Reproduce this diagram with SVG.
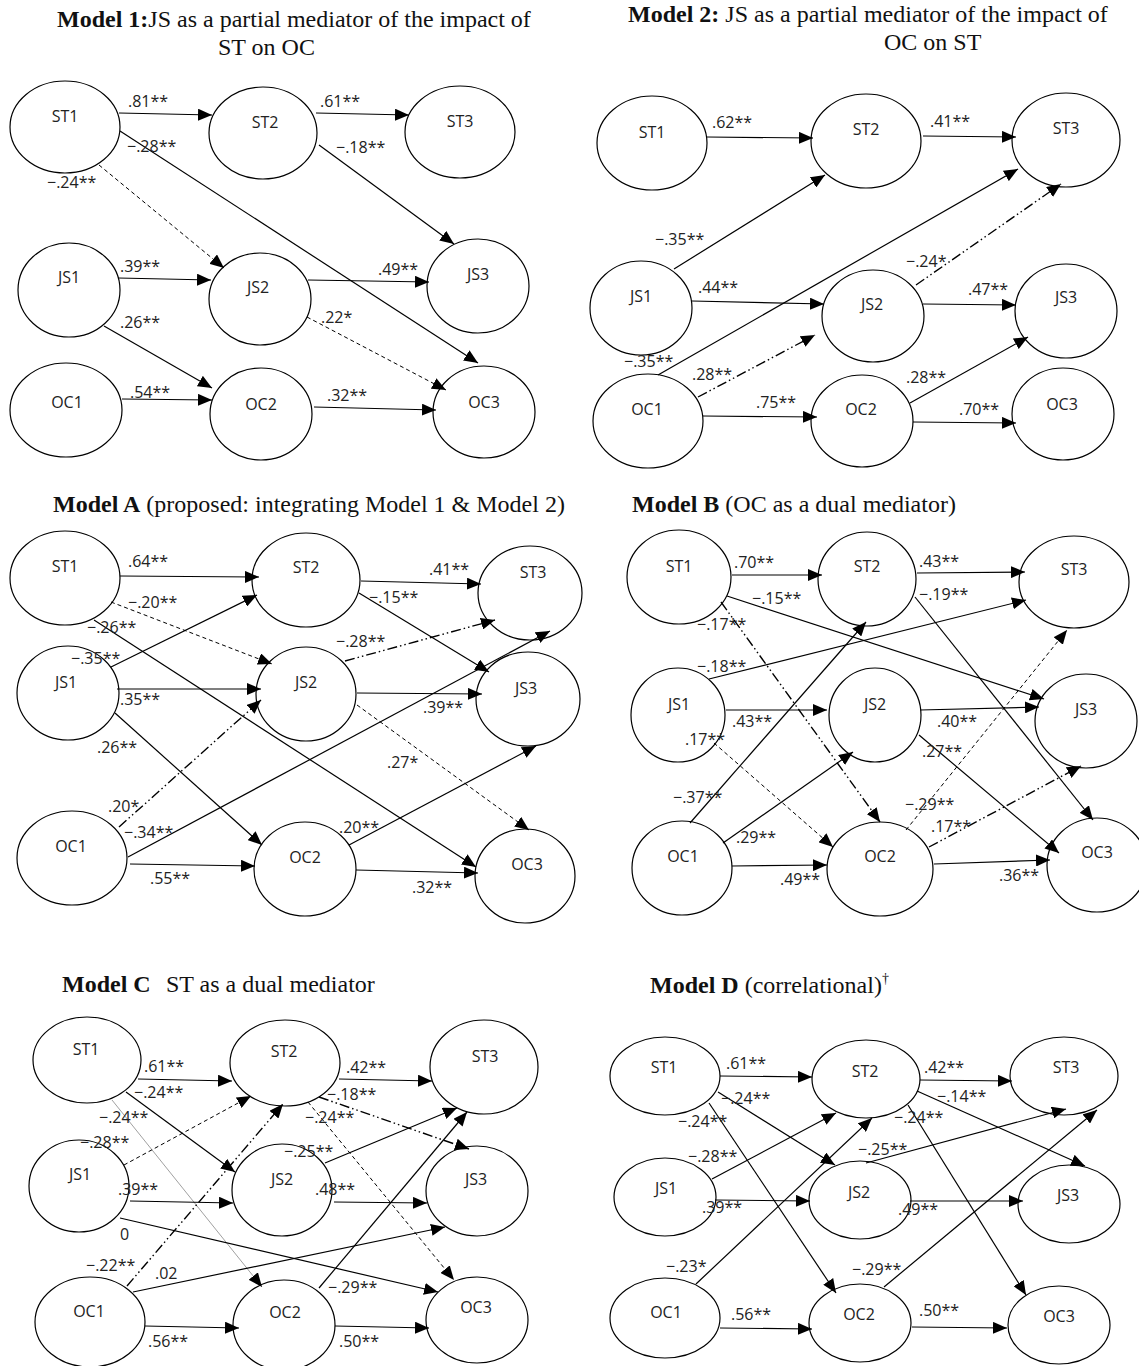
<svg xmlns="http://www.w3.org/2000/svg" width="1139" height="1366" viewBox="0 0 1139 1366">
<defs>
<marker id="ah" viewBox="0 0 14 12" refX="14" refY="6" markerWidth="14" markerHeight="12" markerUnits="userSpaceOnUse" orient="auto"><path d="M0,0 L14,6 L0,12 z" fill="#000" stroke="none"/></marker>
<style>
.n ellipse{fill:#fff;stroke:#000;stroke-width:1.2}
.n text{font-family:"Open Sans","Liberation Sans",sans-serif;font-size:16px;text-anchor:middle;fill:#222}
#connectors line{stroke:#000;stroke-width:1.2;fill:none;marker-end:url(#ah)}
#connectors line.d{stroke-dasharray:4 3;stroke-width:1}
#connectors line.dd{stroke-dasharray:10 3 1.5 3 1.5 3;stroke-width:1.4}
#connectors line.thin{stroke:#777;stroke-width:0.7}
.el{font-family:"Open Sans","Liberation Sans",sans-serif;font-size:16px;fill:#222}
.ti{font-family:"Liberation Serif","Times New Roman",serif;font-size:24px;fill:#111}
.b{font-weight:bold}
</style>
</defs>
<rect width="1139" height="1366" fill="#fff"/>
<g id="titles">
<text class="ti" x="57" y="27"><tspan class="b">Model 1:</tspan>JS as a partial mediator of the impact of</text>
<text class="ti" x="218" y="55">ST on OC</text>
<text class="ti" x="628" y="22"><tspan class="b">Model 2:</tspan> JS as a partial mediator of the impact of</text>
<text class="ti" x="884" y="50">OC on ST</text>
<text class="ti" x="53" y="512"><tspan class="b">Model A</tspan> (proposed: integrating Model 1 &amp; Model 2)</text>
<text class="ti" x="632" y="512"><tspan class="b">Model B</tspan> (OC as a dual mediator)</text>
<text class="ti" x="62" y="992"><tspan class="b">Model C</tspan><tspan x="166">ST as a dual mediator</tspan></text>
<text class="ti" x="650" y="993"><tspan class="b">Model D</tspan> (correlational)<tspan font-size="14" dy="-10">†</tspan></text>
</g>
<g id="nodes">
<g id="m1-ST1" class="n"><ellipse cx="65" cy="127" rx="55" ry="46"/><text x="65" y="122">ST1</text></g>
<g id="m1-ST2" class="n"><ellipse cx="263" cy="133" rx="54" ry="46"/><text x="265" y="128">ST2</text></g>
<g id="m1-ST3" class="n"><ellipse cx="460" cy="132" rx="55" ry="46"/><text x="460" y="127">ST3</text></g>
<g id="m1-JS1" class="n"><ellipse cx="69" cy="290" rx="51" ry="47"/><text x="69" y="283">JS1</text></g>
<g id="m1-JS2" class="n"><ellipse cx="260" cy="299" rx="51" ry="46"/><text x="258" y="293">JS2</text></g>
<g id="m1-JS3" class="n"><ellipse cx="478" cy="286" rx="51" ry="47"/><text x="478" y="280">JS3</text></g>
<g id="m1-OC1" class="n"><ellipse cx="66" cy="410" rx="56" ry="47"/><text x="67" y="408">OC1</text></g>
<g id="m1-OC2" class="n"><ellipse cx="261" cy="414" rx="51" ry="46"/><text x="261" y="410">OC2</text></g>
<g id="m1-OC3" class="n"><ellipse cx="484" cy="412" rx="51" ry="46"/><text x="484" y="408">OC3</text></g>

<g id="m2-ST1" class="n"><ellipse cx="652" cy="143" rx="55" ry="47"/><text x="652" y="138">ST1</text></g>
<g id="m2-ST2" class="n"><ellipse cx="866" cy="141" rx="55" ry="47"/><text x="866" y="135">ST2</text></g>
<g id="m2-ST3" class="n"><ellipse cx="1066" cy="140" rx="54" ry="47"/><text x="1066" y="134">ST3</text></g>
<g id="m2-JS1" class="n"><ellipse cx="641" cy="308" rx="51" ry="47"/><text x="641" y="302">JS1</text></g>
<g id="m2-JS2" class="n"><ellipse cx="873" cy="316" rx="51" ry="46"/><text x="872" y="310">JS2</text></g>
<g id="m2-JS3" class="n"><ellipse cx="1066" cy="311" rx="51" ry="47"/><text x="1066" y="303">JS3</text></g>
<g id="m2-OC1" class="n"><ellipse cx="648" cy="421" rx="55" ry="47"/><text x="647" y="415">OC1</text></g>
<g id="m2-OC2" class="n"><ellipse cx="862" cy="421" rx="51" ry="46"/><text x="861" y="415">OC2</text></g>
<g id="m2-OC3" class="n"><ellipse cx="1063" cy="414" rx="51" ry="46"/><text x="1062" y="410">OC3</text></g>

<g id="mA-ST1" class="n"><ellipse cx="65" cy="578" rx="55" ry="47"/><text x="65" y="572">ST1</text></g>
<g id="mA-ST2" class="n"><ellipse cx="306" cy="580" rx="54" ry="47"/><text x="306" y="573">ST2</text></g>
<g id="mA-ST3" class="n"><ellipse cx="530" cy="593" rx="52" ry="47"/><text x="533" y="578">ST3</text></g>
<g id="mA-JS1" class="n"><ellipse cx="68" cy="693" rx="51" ry="47"/><text x="66" y="688">JS1</text></g>
<g id="mA-JS2" class="n"><ellipse cx="306" cy="694" rx="50" ry="47"/><text x="306" y="688">JS2</text></g>
<g id="mA-JS3" class="n"><ellipse cx="528" cy="699" rx="52" ry="47"/><text x="526" y="694">JS3</text></g>
<g id="mA-OC1" class="n"><ellipse cx="72" cy="858" rx="55" ry="47"/><text x="71" y="852">OC1</text></g>
<g id="mA-OC2" class="n"><ellipse cx="305" cy="869" rx="51" ry="47"/><text x="305" y="863">OC2</text></g>
<g id="mA-OC3" class="n"><ellipse cx="525" cy="876" rx="50" ry="47"/><text x="527" y="870">OC3</text></g>

<g id="mB-ST1" class="n"><ellipse cx="679" cy="577" rx="52" ry="47"/><text x="679" y="572">ST1</text></g>
<g id="mB-ST2" class="n"><ellipse cx="867" cy="579" rx="49" ry="47"/><text x="867" y="572">ST2</text></g>
<g id="mB-ST3" class="n"><ellipse cx="1074" cy="582" rx="55" ry="46"/><text x="1074" y="575">ST3</text></g>
<g id="mB-JS1" class="n"><ellipse cx="678" cy="715" rx="47" ry="47"/><text x="679" y="710">JS1</text></g>
<g id="mB-JS2" class="n"><ellipse cx="875" cy="715" rx="46" ry="47"/><text x="875" y="710">JS2</text></g>
<g id="mB-JS3" class="n"><ellipse cx="1086" cy="721" rx="51" ry="47"/><text x="1086" y="715">JS3</text></g>
<g id="mB-OC1" class="n"><ellipse cx="682" cy="868" rx="50" ry="47"/><text x="683" y="862">OC1</text></g>
<g id="mB-OC2" class="n"><ellipse cx="880" cy="869" rx="53" ry="47"/><text x="880" y="862">OC2</text></g>
<g id="mB-OC3" class="n"><ellipse cx="1097" cy="865" rx="50" ry="47"/><text x="1097" y="858">OC3</text></g>

<g id="mC-ST1" class="n"><ellipse cx="87" cy="1060" rx="54" ry="43"/><text x="86" y="1055">ST1</text></g>
<g id="mC-ST2" class="n"><ellipse cx="285" cy="1063" rx="55" ry="43"/><text x="284" y="1057">ST2</text></g>
<g id="mC-ST3" class="n"><ellipse cx="484" cy="1067" rx="54" ry="47"/><text x="485" y="1062">ST3</text></g>
<g id="mC-JS1" class="n"><ellipse cx="79" cy="1186" rx="50" ry="46"/><text x="80" y="1180">JS1</text></g>
<g id="mC-JS2" class="n"><ellipse cx="282" cy="1190" rx="50" ry="46"/><text x="282" y="1185">JS2</text></g>
<g id="mC-JS3" class="n"><ellipse cx="477" cy="1191" rx="51" ry="45"/><text x="476" y="1185">JS3</text></g>
<g id="mC-OC1" class="n"><ellipse cx="90" cy="1322" rx="55" ry="45"/><text x="89" y="1317">OC1</text></g>
<g id="mC-OC2" class="n"><ellipse cx="284" cy="1325" rx="51" ry="45"/><text x="285" y="1318">OC2</text></g>
<g id="mC-OC3" class="n"><ellipse cx="477" cy="1320" rx="51" ry="43"/><text x="476" y="1313">OC3</text></g>

<g id="mD-ST1" class="n"><ellipse cx="665" cy="1076" rx="55" ry="39"/><text x="664" y="1073">ST1</text></g>
<g id="mD-ST2" class="n"><ellipse cx="866" cy="1079" rx="54" ry="39"/><text x="865" y="1077">ST2</text></g>
<g id="mD-ST3" class="n"><ellipse cx="1064" cy="1076" rx="54" ry="39"/><text x="1066" y="1073">ST3</text></g>
<g id="mD-JS1" class="n"><ellipse cx="665" cy="1197" rx="51" ry="39"/><text x="666" y="1194">JS1</text></g>
<g id="mD-JS2" class="n"><ellipse cx="860" cy="1200" rx="51" ry="39"/><text x="859" y="1198">JS2</text></g>
<g id="mD-JS3" class="n"><ellipse cx="1069" cy="1204" rx="51" ry="39"/><text x="1068" y="1201">JS3</text></g>
<g id="mD-OC1" class="n"><ellipse cx="665" cy="1318" rx="55" ry="40"/><text x="666" y="1318">OC1</text></g>
<g id="mD-OC2" class="n"><ellipse cx="860" cy="1323" rx="51" ry="39"/><text x="859" y="1320">OC2</text></g>
<g id="mD-OC3" class="n"><ellipse cx="1059" cy="1325" rx="51" ry="39"/><text x="1059" y="1322">OC3</text></g>
</g>
<g id="connectors">
<line x1="119" y1="113" x2="212" y2="115"/>
<line x1="316" y1="113" x2="409" y2="115"/>
<line x1="120" y1="131" x2="478" y2="363"/>
<line x1="319" y1="145" x2="454" y2="244"/>
<line class="d" x1="99" y1="165" x2="224" y2="268"/>
<line x1="118" y1="278" x2="211" y2="280"/>
<line x1="308" y1="280" x2="429" y2="282"/>
<line x1="104" y1="326" x2="212" y2="388"/>
<line class="d" x1="307" y1="317" x2="446" y2="390"/>
<line x1="122" y1="399" x2="212" y2="400"/>
<line x1="314" y1="407" x2="436" y2="410"/>

<line x1="707" y1="137" x2="813" y2="138"/>
<line x1="923" y1="136" x2="1016" y2="137"/>
<line x1="674" y1="269" x2="825" y2="175"/>
<line x1="658" y1="375" x2="1018" y2="169"/>
<line class="dd" x1="916" y1="285" x2="1061" y2="184"/>
<line x1="692" y1="301" x2="824" y2="304"/>
<line x1="923" y1="304" x2="1016" y2="305"/>
<line class="dd" x1="698" y1="397" x2="815" y2="335"/>
<line x1="703" y1="416" x2="817" y2="417"/>
<line x1="910" y1="403" x2="1028" y2="337"/>
<line x1="913" y1="422" x2="1016" y2="423"/>

<line x1="120" y1="576" x2="259" y2="577"/>
<line x1="361" y1="581" x2="481" y2="584"/>
<line class="d" x1="111" y1="602" x2="272" y2="664"/>
<line x1="94" y1="620" x2="476" y2="867"/>
<line x1="111" y1="667" x2="257" y2="595"/>
<line x1="359" y1="593" x2="489" y2="672"/>
<line class="dd" x1="345" y1="661" x2="495" y2="620"/>
<line x1="117" y1="689" x2="261" y2="689"/>
<line x1="357" y1="693" x2="482" y2="694"/>
<line x1="115" y1="713" x2="262" y2="845"/>
<line class="d" x1="357" y1="705" x2="529" y2="830"/>
<line class="dd" x1="119" y1="827" x2="261" y2="700"/>
<line x1="128" y1="857" x2="550" y2="631"/>
<line x1="130" y1="864" x2="255" y2="866"/>
<line x1="349" y1="845" x2="536" y2="746"/>
<line x1="356" y1="870" x2="478" y2="873"/>

<line x1="732" y1="575" x2="822" y2="575"/>
<line x1="917" y1="573" x2="1025" y2="572"/>
<line x1="727" y1="596" x2="1044" y2="699"/>
<line x1="915" y1="597" x2="1093" y2="820"/>
<line class="dd" x1="721" y1="602" x2="880" y2="822"/>
<line x1="709" y1="679" x2="1026" y2="600"/>
<line x1="726" y1="710" x2="827" y2="710"/>
<line x1="920" y1="710" x2="1039" y2="707"/>
<line class="d" x1="714" y1="743" x2="833" y2="847"/>
<line x1="919" y1="735" x2="1059" y2="853"/>
<line x1="690" y1="823" x2="866" y2="622"/>
<line x1="723" y1="843" x2="853" y2="752"/>
<line class="d" x1="906" y1="830" x2="1067" y2="630"/>
<line class="dd" x1="929" y1="847" x2="1081" y2="766"/>
<line x1="732" y1="866" x2="827" y2="865"/>
<line x1="934" y1="864" x2="1050" y2="860"/>

<line x1="138" y1="1079" x2="232" y2="1081"/>
<line x1="339" y1="1079" x2="432" y2="1081"/>
<line x1="126" y1="1092" x2="235" y2="1172"/>
<line class="thin" x1="112" y1="1100" x2="262" y2="1287"/>
<line class="d" x1="124" y1="1165" x2="251" y2="1096"/>
<line x1="130" y1="1201" x2="233" y2="1203"/>
<line x1="120" y1="1218" x2="438" y2="1292"/>
<line class="dd" x1="127" y1="1286" x2="283" y2="1104"/>
<line x1="133" y1="1292" x2="445" y2="1227"/>
<line x1="145" y1="1326" x2="239" y2="1328"/>
<line class="dd" x1="319" y1="1097" x2="469" y2="1149"/>
<line class="d" x1="308" y1="1102" x2="454" y2="1280"/>
<line x1="325" y1="1163" x2="457" y2="1108"/>
<line x1="334" y1="1202" x2="427" y2="1203"/>
<line x1="319" y1="1288" x2="467" y2="1112"/>
<line x1="335" y1="1326" x2="429" y2="1328"/>

<line x1="720" y1="1076" x2="812" y2="1077"/>
<line x1="920" y1="1080" x2="1012" y2="1081"/>
<line x1="718" y1="1092" x2="835" y2="1165"/>
<line x1="709" y1="1103" x2="836" y2="1293"/>
<line x1="712" y1="1179" x2="836" y2="1113"/>
<line x1="715" y1="1200" x2="810" y2="1201"/>
<line x1="696" y1="1284" x2="872" y2="1118"/>
<line x1="917" y1="1091" x2="1085" y2="1166"/>
<line x1="908" y1="1105" x2="1026" y2="1295"/>
<line x1="866" y1="1163" x2="1066" y2="1109"/>
<line x1="910" y1="1201" x2="1023" y2="1201"/>
<line x1="884" y1="1287" x2="1097" y2="1110"/>
<line x1="720" y1="1328" x2="812" y2="1329"/>
<line x1="912" y1="1327" x2="1007" y2="1328"/>
</g>
<g id="edge-labels" class="el">
<text x="128" y="107">.81**</text>
<text x="320" y="107">.61**</text>
<text x="127" y="152">−.28**</text>
<text x="336" y="153">−.18**</text>
<text x="47" y="188">−.24**</text>
<text x="120" y="272">.39**</text>
<text x="378" y="275">.49**</text>
<text x="120" y="328">.26**</text>
<text x="321" y="323">.22*</text>
<text x="130" y="398">.54**</text>
<text x="327" y="401">.32**</text>

<text x="712" y="128">.62**</text>
<text x="930" y="127">.41**</text>
<text x="655" y="245">−.35**</text>
<text x="624" y="367">−.35**</text>
<text x="906" y="267">−.24*</text>
<text x="698" y="293">.44**</text>
<text x="968" y="295">.47**</text>
<text x="692" y="380">.28**</text>
<text x="756" y="408">.75**</text>
<text x="906" y="383">.28**</text>
<text x="959" y="415">.70**</text>

<text x="128" y="567">.64**</text>
<text x="429" y="575">.41**</text>
<text x="128" y="608">−.20**</text>
<text x="87" y="633">−.26**</text>
<text x="71" y="664">−.35**</text>
<text x="369" y="603">−.15**</text>
<text x="336" y="647">−.28**</text>
<text x="120" y="705">.35**</text>
<text x="423" y="713">.39**</text>
<text x="97" y="753">.26**</text>
<text x="387" y="768">.27*</text>
<text x="108" y="812">.20*</text>
<text x="124" y="838">−.34**</text>
<text x="150" y="884">.55**</text>
<text x="339" y="833">.20**</text>
<text x="412" y="893">.32**</text>

<text x="734" y="568">.70**</text>
<text x="919" y="567">.43**</text>
<text x="752" y="604">−.15**</text>
<text x="919" y="600">−.19**</text>
<text x="697" y="630">−.17**</text>
<text x="697" y="672">−.18**</text>
<text x="732" y="727">.43**</text>
<text x="937" y="727">.40**</text>
<text x="685" y="745">.17**</text>
<text x="922" y="757">.27**</text>
<text x="673" y="803">−.37**</text>
<text x="736" y="843">.29**</text>
<text x="905" y="810">−.29**</text>
<text x="931" y="832">.17**</text>
<text x="780" y="885">.49**</text>
<text x="999" y="881">.36**</text>

<text x="144" y="1072">.61**</text>
<text x="346" y="1073">.42**</text>
<text x="134" y="1098">−.24**</text>
<text x="99" y="1123">−.24**</text>
<text x="80" y="1148">−.28**</text>
<text x="118" y="1195">.39**</text>
<text x="120" y="1240">0</text>
<text x="86" y="1271">−.22**</text>
<text x="155" y="1279">.02</text>
<text x="148" y="1347">.56**</text>
<text x="327" y="1100">−.18**</text>
<text x="305" y="1123">−.24**</text>
<text x="284" y="1157">−.25**</text>
<text x="315" y="1195">.48**</text>
<text x="328" y="1293">−.29**</text>
<text x="339" y="1347">.50**</text>

<text x="726" y="1069">.61**</text>
<text x="924" y="1073">.42**</text>
<text x="721" y="1104">−.24**</text>
<text x="678" y="1127">−.24**</text>
<text x="688" y="1162">−.28**</text>
<text x="702" y="1213">.39**</text>
<text x="666" y="1272">−.23*</text>
<text x="937" y="1102">−.14**</text>
<text x="894" y="1123">−.24**</text>
<text x="858" y="1155">−.25**</text>
<text x="898" y="1215">.49**</text>
<text x="852" y="1275">−.29**</text>
<text x="731" y="1320">.56**</text>
<text x="919" y="1316">.50**</text>
</g>
</svg>
